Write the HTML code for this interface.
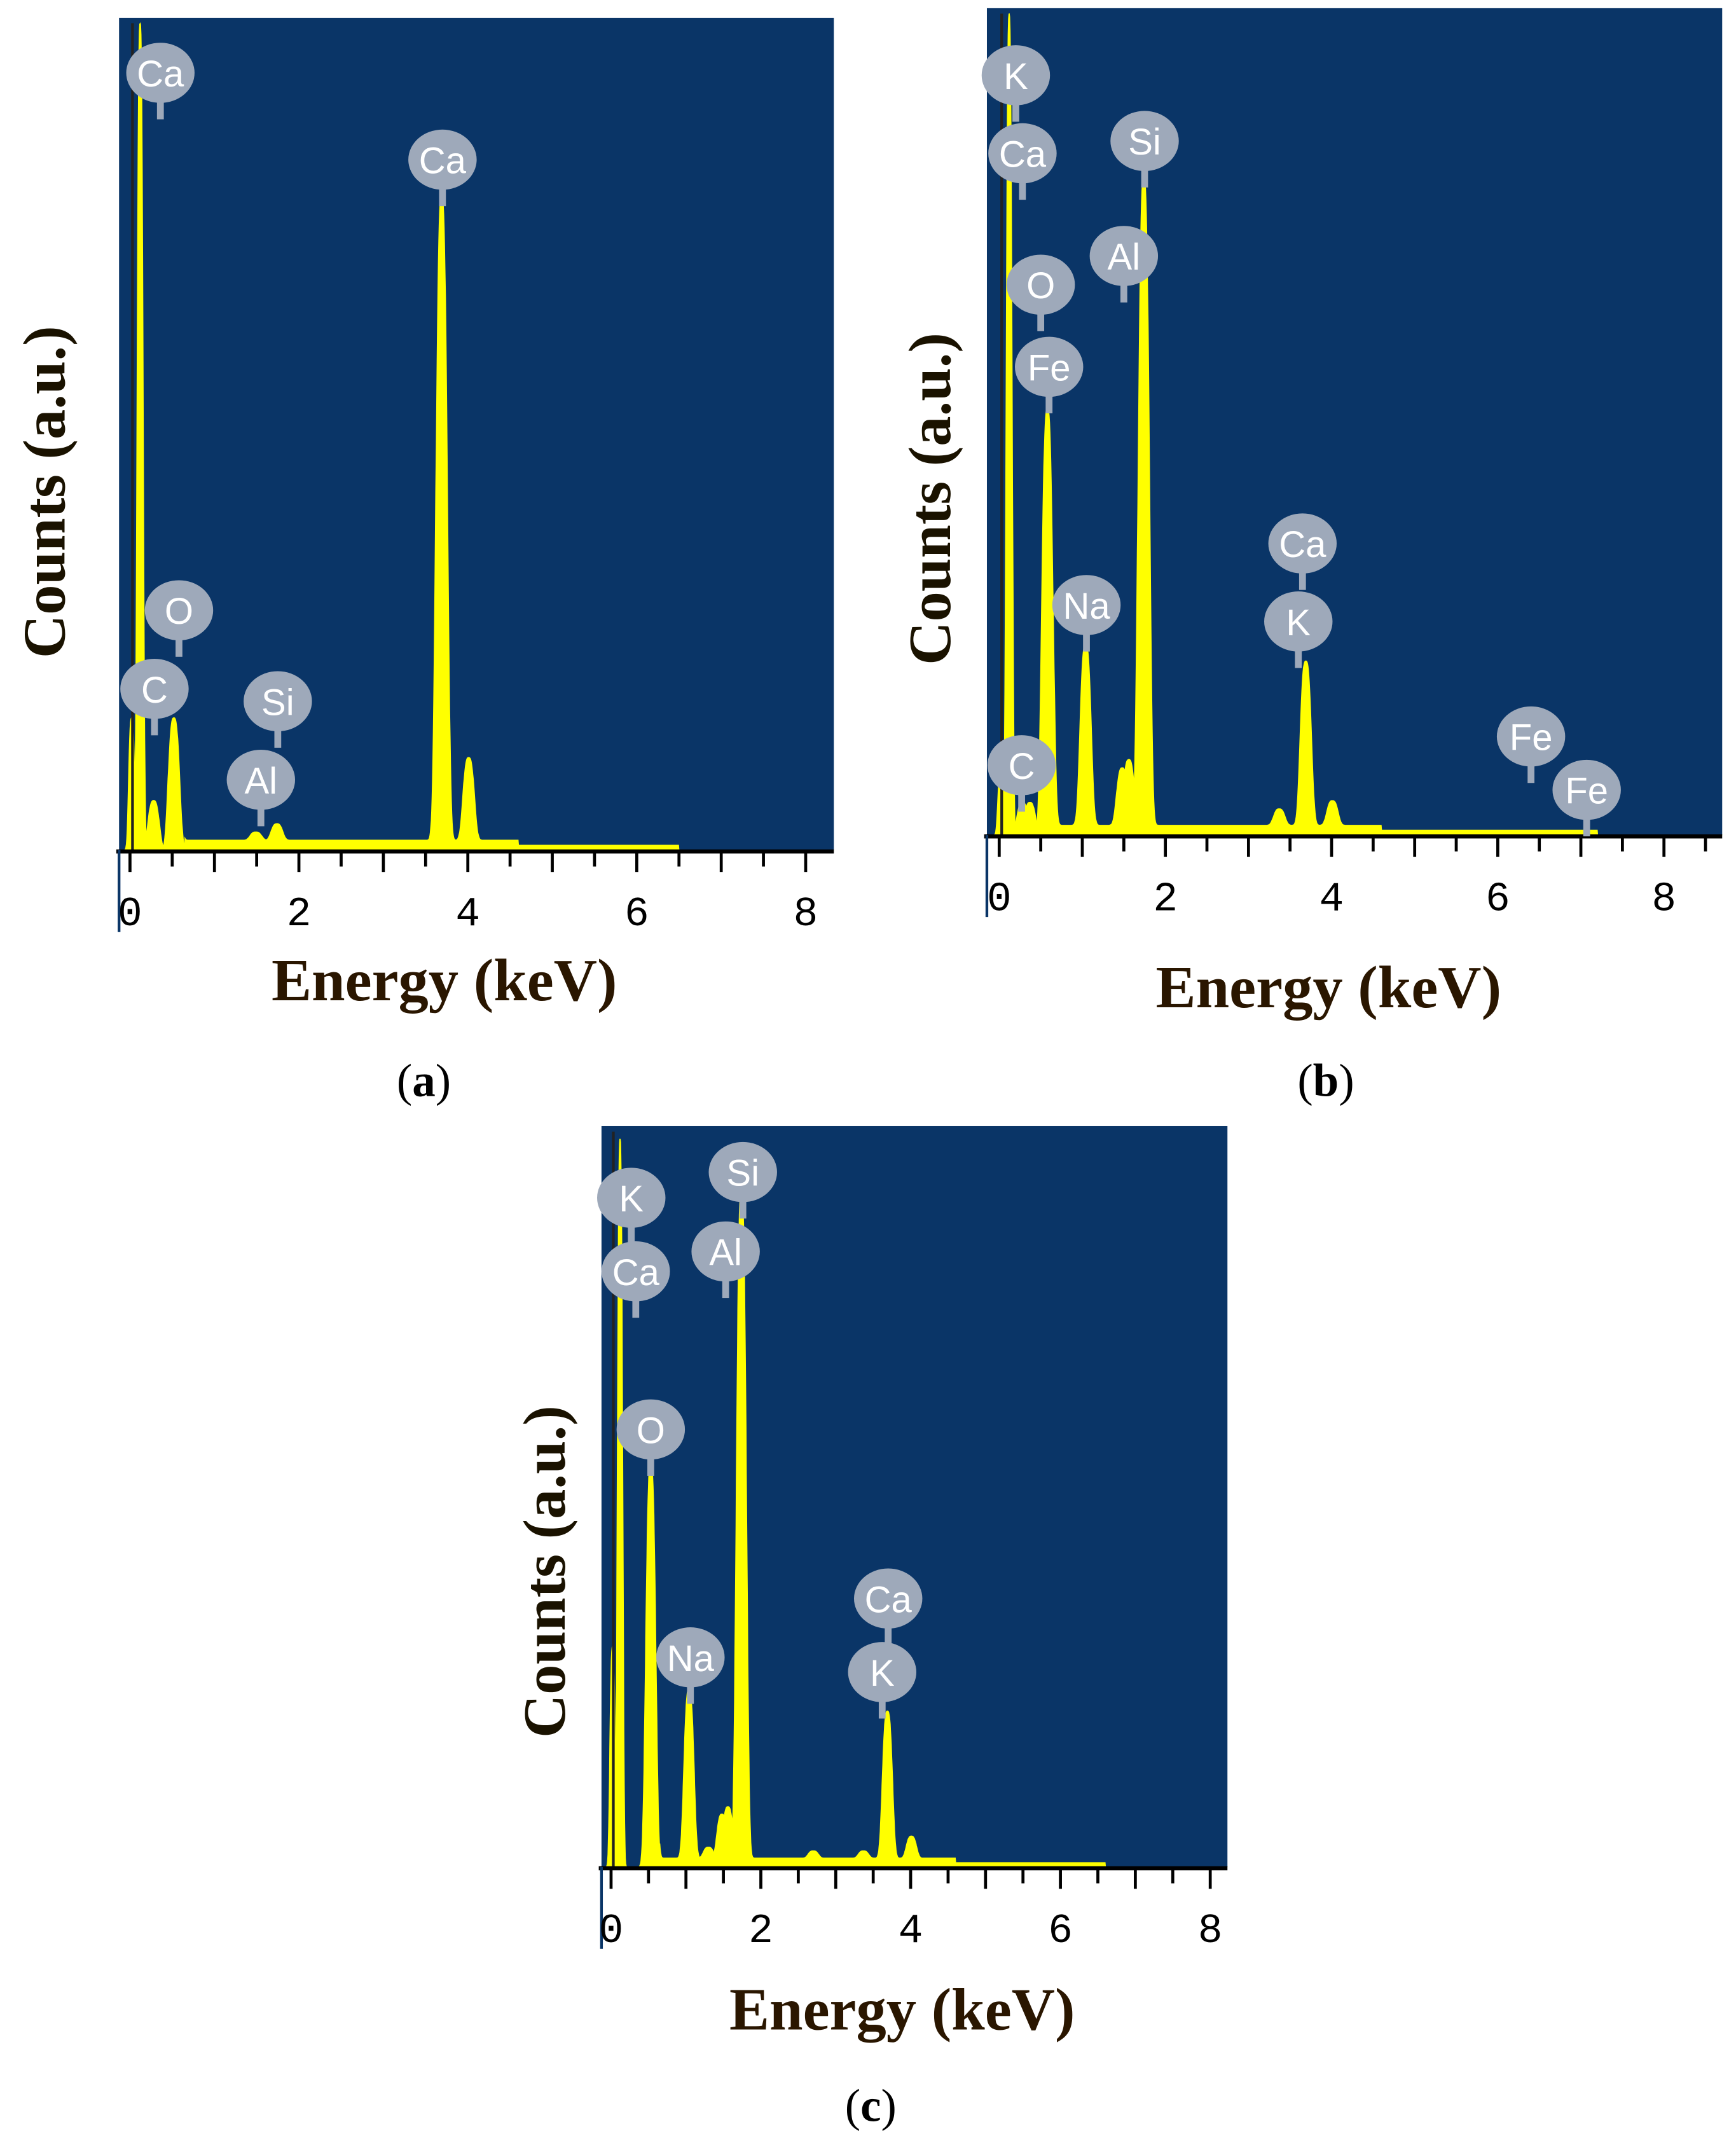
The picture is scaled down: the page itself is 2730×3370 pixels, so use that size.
<!DOCTYPE html>
<html><head><meta charset="utf-8"><style>
html,body{margin:0;padding:0;background:#fff;}
svg{display:block;}
</style></head><body>
<svg id="fig" width="2730" height="3370" viewBox="0 0 1270 1568" xmlns="http://www.w3.org/2000/svg"></svg>
<script>
// Panel (a) data
const peaksA_E = [0.02, 0.12, 0.28, 0.52, 1.49, 1.74, 3.69, 4.01];
const peaksA_H = [0.16, 1.0, 0.06, 0.16, 0.01, 0.02, 0.78, 0.10];
const labelsA_T = ["Ca","Ca","O","C","Si","Al"];
const labelsA_E = [0.36, 3.7, 0.58, 0.29, 1.75, 1.55];
const labelsA_H = [0.94, 0.835, 0.29, 0.195, 0.18, 0.085];
// Panel (b) data
const peaksB_E = [0.02, 0.12, 0.28, 0.37, 0.58, 1.04, 1.48, 1.56, 1.74, 3.37, 3.69, 4.01];
const peaksB_H = [0.08, 1.0, 0.04, 0.04, 0.52, 0.22, 0.07, 0.08, 0.79, 0.02, 0.20, 0.03];
const labelsB_T = ["K","Ca","O","Fe","Si","Al","Ca","K","Na","C","Fe","Fe"];
const labelsB_E = [0.2, 0.28, 0.5, 0.6, 1.75, 1.5, 3.65, 3.6, 1.05, 0.27, 6.4, 7.07];
const labelsB_H = [0.925, 0.83, 0.67, 0.57, 0.845, 0.705, 0.355, 0.26, 0.28, 0.085, 0.12, 0.055];
// Panel (c) data
const peaksC_E = [0.02, 0.12, 0.53, 1.04, 1.3, 1.48, 1.56, 1.74, 2.7, 3.37, 3.69, 4.01];
const peaksC_H = [0.3, 0.99, 0.55, 0.23, 0.015, 0.06, 0.07, 0.91, 0.01, 0.01, 0.2, 0.03];
const labelsC_T = ["K","Ca","Si","Al","O","Na","Ca","K"];
const labelsC_E = [0.27, 0.33, 1.76, 1.53, 0.53, 1.06, 3.7, 3.62];
const labelsC_H = [0.91, 0.81, 0.945, 0.837, 0.595, 0.285, 0.365, 0.265];
const xTicks = [0, 2, 4, 6, 8];

const NS = "http://www.w3.org/2000/svg";
const svg = document.getElementById('fig');
function mk(tag, attrs, parent){
  const e = document.createElementNS(NS, tag);
  for (const k in attrs) e.setAttribute(k, attrs[k]);
  (parent||svg).appendChild(e); return e;
}

function panel(cfg){
  const g = mk('g', {});
  
  
  const xs = e => cfg.x0 + e * cfg.kpx;
  const ys = h => cfg.base - h * (cfg.base - cfg.top);
  const bg = mk('rect', {x: cfg.left, y: cfg.top - 4, width: cfg.right - cfg.left, height: cfg.base - cfg.top + 4, fill: '#0a3567'}, g);
  
  
  const emax = (cfg.right - cfg.x0) / cfg.kpx;
  const e0 = (cfg.left - cfg.x0)/cfg.kpx + 0.02;
  let pts = [];
  for (let e = e0; e <= emax; e += 0.005){
    let v = 0;
    for (let i = 0; i < cfg.pe.length; i++){
      const s = cfg.pe[i] < 0.2 ? 0.035 : 0.065;
      const d = e - cfg.pe[i];
      // flat-topped peak shape
      v = Math.max(v, cfg.ph[i] * Math.exp(-Math.pow(Math.abs(d) / s, 3) / 2));
    }
    if (e > 0.65 && e < 4.6) v += 0.012;
    else if (e >= 4.6 && e < cfg.bgEnd) v += 0.006;
    pts.push(xs(e).toFixed(1) + ',' + ys(Math.min(v, 1)).toFixed(1));
  }
  const spec = mk('polygon', {points: xs(e0).toFixed(1) + ',' + cfg.base + ' ' + pts.join(' ') + ' ' + xs(emax).toFixed(1) + ',' + cfg.base, fill: '#ffff00', stroke: '#ffff00', 'stroke-width': 0.6}, g);
  
  
  const ml = mk('line', {x1: xs(0.03), x2: xs(0.03), y1: cfg.top, y2: cfg.base, stroke: '#222', 'stroke-width': 2}, g);
  
  
  const ax = mk('line', {x1: cfg.left - 2, x2: cfg.right, y1: cfg.base + 1, y2: cfg.base + 1, stroke: '#000', 'stroke-width': 3}, g);
  
  
  const la = mk('line', {x1: cfg.left, x2: cfg.left, y1: cfg.base, y2: cfg.base + 60, stroke: '#0a3567', 'stroke-width': 2}, g);
  
  
  for (let t = 0; t <= emax; t += 0.5){
    const len = Number.isInteger(t) ? 16 : 12;
    const tk = mk('line', {x1: xs(t), x2: xs(t), y1: cfg.base, y2: cfg.base + len, stroke: '#000', 'stroke-width': 2.2}, g);
    
    
  }
  xTicks.forEach(t => {
    const tl = mk('text', {x: xs(t), y: cfg.base + 55, 'text-anchor': 'middle', 'font-family': 'Liberation Mono, DejaVu Sans Mono, monospace', 'font-size': 30, fill: '#000'}, g);
    tl.textContent = String(t);
    
    
  });
  for (let i = 0; i < cfg.lt.length; i++){
    const cx = xs(cfg.le[i]), cy = ys(cfg.lh[i]);
    const lg = mk('g', {}, g);
    
    
    mk('rect', {x: cx - 2.5, y: cy, width: 5, height: 34, fill: '#9ea9ba'}, lg);
    mk('ellipse', {cx: cx, cy: cy, rx: 25, ry: 22, fill: '#9ea9ba'}, lg);
    const tx = mk('text', {x: cx, y: cy + 10, 'text-anchor': 'middle', 'font-family': 'Liberation Sans, sans-serif', 'font-size': 27, fill: '#fff'}, lg);
    tx.textContent = cfg.lt[i];
  }
  const xt = mk('text', {x: cfg.xlx, y: cfg.xly, 'text-anchor': 'middle', 'font-family': 'Liberation Serif, serif', 'font-size': 44, 'font-weight': 'bold', fill: '#2a1600'}, g);
  xt.textContent = 'Energy (keV)';
  
  
  const yt = mk('text', {x: 0, y: 0, transform: 'translate(' + cfg.ylx + ',' + cfg.yly + ') rotate(-90)', 'text-anchor': 'middle', 'font-family': 'Liberation Serif, serif', 'font-size': 44, 'font-weight': 'bold', fill: '#1a1200'}, g);
  yt.textContent = 'Counts (a.u.)';
  
  
  const cap = mk('text', {x: cfg.cx, y: cfg.cy, 'text-anchor': 'middle', 'font-family': 'Liberation Serif, serif', 'font-size': 34, fill: '#000'}, g);
  cap.innerHTML = '(<tspan font-weight="bold">' + cfg.id + '</tspan>)';
  
  
}

panel({id:'a', left:87, right:610, top:17, base:622, x0:95, kpx:61.8, bgEnd:6.5,
  pe:peaksA_E, ph:peaksA_H, lt:labelsA_T, le:labelsA_E, lh:labelsA_H,
  xlx:325, xly:732, ylx:47, yly:360, cx:310, cy:802});
panel({id:'b', left:722, right:1260, top:10, base:611, x0:731, kpx:60.8, bgEnd:7.2,
  pe:peaksB_E, ph:peaksB_H, lt:labelsB_T, le:labelsB_E, lh:labelsB_H,
  xlx:972, xly:737, ylx:695, yly:365, cx:970, cy:802});
panel({id:'c', left:440, right:898, top:828, base:1366, x0:447, kpx:54.8, bgEnd:6.6,
  pe:peaksC_E, ph:peaksC_H, lt:labelsC_T, le:labelsC_E, lh:labelsC_H,
  xlx:660, xly:1485, ylx:413, yly:1150, cx:637, cy:1552});
</script>
</body></html>
